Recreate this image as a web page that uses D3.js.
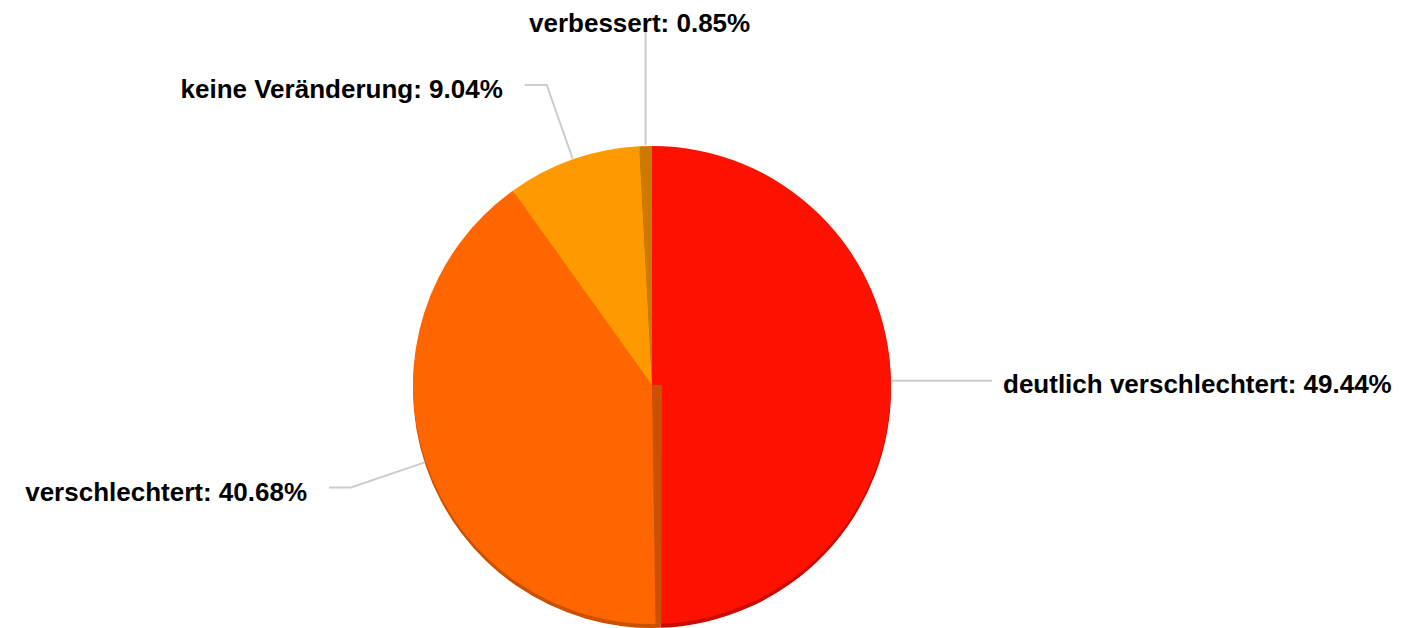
<!DOCTYPE html>
<html lang="de">
<head>
<meta charset="UTF-8">
<title>Pie</title>
<style>
  body { margin: 0; background: #fff; }
  text { font-family: "Liberation Sans", Arial, sans-serif; font-weight: bold; font-size: 26px; fill: #000; }
</style>
</head>
<body>
<svg width="1406" height="628"></svg>
<script src="https://d3js.org/d3.v7.min.js"></script>
<script>
const categories = ["deutlich verschlechtert", "verschlechtert", "keine Veränderung", "verbessert"];
const values = [49.44, 40.68, 9.04, 0.85];
const colors = ["#ff1100", "#ff6600", "#ff9900", "#cc7a00"];

const svg = d3.select("svg");
const cx = 652, cy = 385, r = 239, depth = 4, elbowR = 318;

const data = categories.map((c, i) => ({ name: c, value: values[i], color: colors[i] }));
const pie = d3.pie().sort(null).value(d => d.value);
const arcs = pie(data);
const arc = d3.arc().innerRadius(0).outerRadius(r);

const g = svg.append("g").attr("transform", `translate(${cx},${cy})`);

// side (depth) layer
g.append("g").attr("transform", `translate(0,${depth})`)
  .selectAll("path").data(arcs).join("path")
  .attr("d", arc)
  .attr("fill", d => d3.color(d.data.color).darker(0.65));

// top faces
g.append("g").selectAll("path").data(arcs).join("path")
  .attr("d", arc)
  .attr("fill", d => d.data.color);

// visible inner wall at the end of the first slice
const a1 = arcs[0].endAngle;
const ex = r * Math.sin(a1), ey = -r * Math.cos(a1);
g.append("path")
  .attr("d", d3.line()([[0, 0], [10, 0], [ex + 1, ey], [ex - 5, ey]]))
  .attr("fill", d3.color(colors[1]).darker(0.65));

// leader lines and labels
const pt = (a, rad) => [rad * Math.sin(a), -rad * Math.cos(a)];
const fmt = d => `${d.data.name}: ${d.data.value.toFixed(2)}%`;

arcs.forEach((d, i) => {
  const mid = (d.startAngle + d.endAngle) / 2;
  const p0 = pt(mid, r + 1);
  let pts, lx, ly, anchor;
  if (i === 3) {
    pts = [p0, [p0[0], 30 - cy]];
    lx = p0[0] - 6; ly = 32 - cy; anchor = "middle";
  } else if (i === 0) {
    const p1 = [r + 101, p0[1]];
    pts = [p0, p1];
    lx = p1[0] + 11; ly = p1[1] + 12.5; anchor = "start";
  } else {
    const p1 = pt(mid, elbowR);
    const p2 = [p1[0] - 22, p1[1]];
    pts = [p0, p1, p2];
    lx = p2[0] - 22; ly = p2[1] + 13; anchor = "end";
  }
  g.append("path")
    .attr("d", d3.line()(pts))
    .attr("fill", "none")
    .attr("stroke", "#cccccc")
    .attr("stroke-width", 2);
  g.append("text")
    .attr("x", lx).attr("y", ly)
    .attr("text-anchor", anchor)
    .text(fmt(d));
});
</script>
</body>
</html>
